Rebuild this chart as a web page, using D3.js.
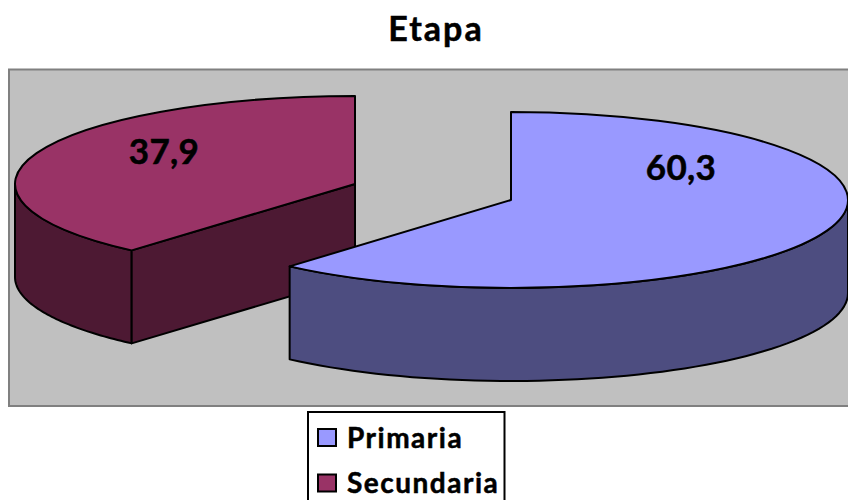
<!DOCTYPE html>
<html>
<head>
<meta charset="utf-8">
<script src="https://cdnjs.cloudflare.com/ajax/libs/d3/7.8.5/d3.min.js"></script>
<style>
  html, body { margin: 0; padding: 0; background: #fff; overflow: hidden; }
  svg { display: block; }
  text { font-family: Lato, "Open Sans", sans-serif; font-weight: 700; fill: #000; stroke: #000; stroke-width: 0.5px; }
</style>
</head>
<body>
<svg width="848" height="500"></svg>
<script>
var categories = ["Primaria", "Secundaria"];
var values = [60.3, 37.9];
var labels = ["60,3", "37,9"];
var topColors = ["#9999ff", "#993366"];
var sideColors = ["#4d4d80", "#4d1933"];

var svg = d3.select("svg");

var radii = [337, 340], ry = 88, depth = 93, lineW = 2;
// each slice is pulled away from the middle, so each has its own centre
var centers = [[511, 200], [355, 184]];
var labelPos = [[681, 168], [164, 152]];

svg.append("text")
  .attr("x", 436).attr("y", 41)
  .attr("text-anchor", "middle")
  .style("font-size", "34px")
  .style("letter-spacing", "2px")
  .text("Etapa");

svg.append("rect")
  .attr("x", 9).attr("y", 69.5)
  .attr("width", 845).attr("height", 336.5)
  .attr("fill", "#c0c0c0")
  .attr("stroke", "#808080")
  .attr("stroke-width", 2);

var pie = d3.pie().sort(null).startAngle(0).endAngle(2 * Math.PI);
var slices = pie(values);

function point(i, a, dy) {
  var c = centers[i];
  return [c[0] + radii[i] * Math.sin(a), c[1] - ry * Math.cos(a) + (dy || 0)];
}

// piece of the rim between angles a0 and a1, as a closed wall
function rim(i, a0, a1) {
  var steps = d3.range(0, 61).map(function(k) { return a0 + (a1 - a0) * k / 60; });
  var up = steps.map(function(a) { return point(i, a, 0); });
  var down = steps.slice().reverse().map(function(a) { return point(i, a, depth); });
  return d3.line()(up.concat(down)) + "Z";
}

function wallParts(i, d) {
  var parts = [];
  var a0 = Math.max(d.startAngle, Math.PI / 2);
  var a1 = Math.min(d.endAngle, 3 * Math.PI / 2);
  if (a1 > a0) parts.push(rim(i, a0, a1));
  // the cut face of the slice shows when it looks towards the viewer
  if (d.startAngle > Math.PI) {
    var p = point(i, d.startAngle), q = centers[i];
    parts.push(d3.line()([p, q, [q[0], q[1] + depth], [p[0], p[1] + depth]]) + "Z");
  }
  return parts;
}

// back slice first, the Primaria slice overlaps it
[1, 0].forEach(function(i) {
  var g = svg.append("g");
  var arc = d3.arc().innerRadius(0).outerRadius(radii[i]);
  wallParts(i, slices[i]).forEach(function(dstr) {
    g.append("path")
      .attr("d", dstr)
      .attr("fill", sideColors[i])
      .attr("stroke", "#000")
      .attr("stroke-width", lineW)
      .attr("stroke-linejoin", "round");
  });
  g.append("path")
    .attr("d", arc(slices[i]))
    .attr("transform", "translate(" + centers[i] + ") scale(1," + (ry / radii[i]) + ")")
    .attr("fill", topColors[i])
    .attr("stroke", "#000")
    .attr("stroke-width", lineW)
    .attr("stroke-linejoin", "round")
    .attr("vector-effect", "non-scaling-stroke");
});

svg.selectAll(".val")
  .data(labels)
  .enter().append("text")
  .attr("class", "val")
  .attr("x", function(d, i) { return labelPos[i][0]; })
  .attr("y", function(d, i) { return labelPos[i][1] + 12; })
  .attr("text-anchor", "middle")
  .style("font-size", "35px")
  .style("letter-spacing", "0.3px")
  .text(function(d) { return d; });

// legend runs off the bottom of the picture
svg.append("rect")
  .attr("x", 308).attr("y", 412)
  .attr("width", 196.5).attr("height", 100)
  .attr("fill", "#fff")
  .attr("stroke", "#000")
  .attr("stroke-width", 2);

var leg = svg.selectAll(".leg")
  .data(categories)
  .enter().append("g")
  .attr("class", "leg")
  .attr("transform", function(d, i) { return "translate(318," + (429 + i * 45.5) + ")"; });

leg.append("rect")
  .attr("width", 18).attr("height", 17)
  .attr("fill", function(d, i) { return topColors[i]; })
  .attr("stroke", "#000")
  .attr("stroke-width", 2);

leg.append("text")
  .attr("x", 29).attr("y", 18.5)
  .style("font-size", "28px")
  .style("letter-spacing", "1.5px")
  .text(function(d) { return d; });
</script>
</body>
</html>
